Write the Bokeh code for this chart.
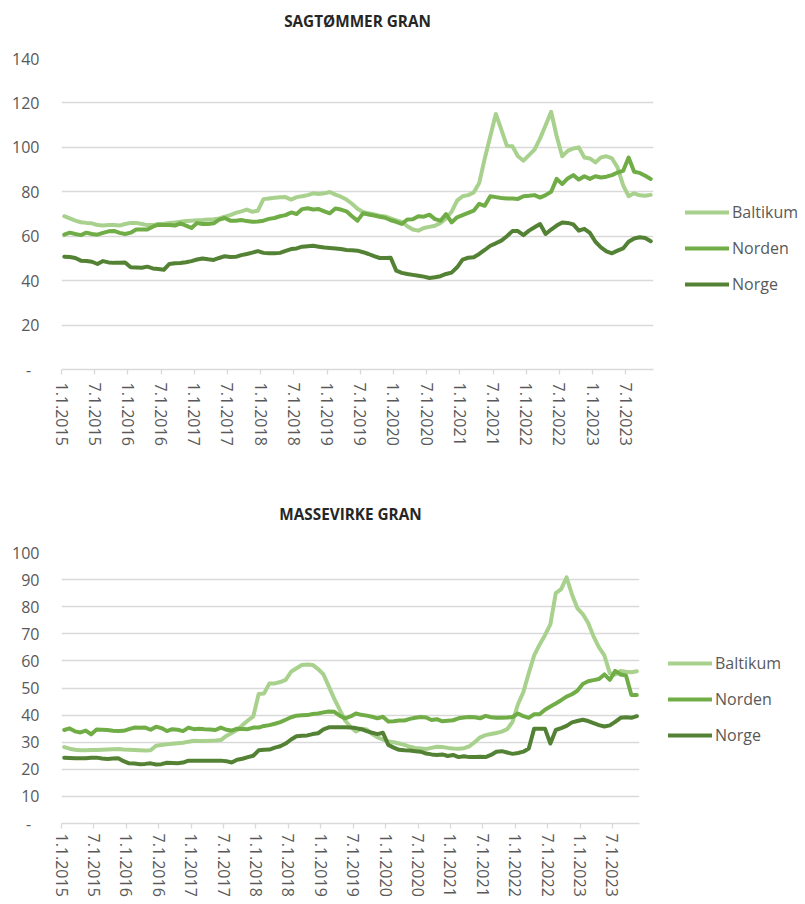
from bokeh.plotting import figure
from bokeh.layouts import column
from bokeh.models import Range1d, FixedTicker, Legend, LegendItem, Title
from bokeh.embed import file_html
from bokeh.resources import INLINE

# Monthly index series, January 2015 - November 2023
months = [f"{m}.1.{y}" for y in range(2015, 2024) for m in range(1, 13)][:107]
tick_every = 6

saw_baltikum = [69, 68, 67, 66.3, 66, 65.8, 65, 64.8, 65, 65, 64.8, 65.5,
                66, 66, 65.5, 65, 65, 65.5, 65.6, 66, 66.2, 66.5, 66.8, 67,
                67.2, 67.3, 67.5, 67.6, 68, 68.8, 69.5, 70.5, 71.2, 72, 71, 71.5,
                76.7, 77, 77.3, 77.5, 77.6, 76.5, 77.6, 78, 78.5, 79.3, 79, 79.3,
                79.9, 78.7, 77.8, 76.5, 74.6, 72.4, 70.9, 70.3, 69.8, 69.2, 68.9, 68,
                67.1, 66.4, 64.5, 63, 62.5, 63.7, 64.2, 64.7, 66, 68, 71, 76,
                78, 78.5, 79.7, 84, 95, 105, 115, 108, 100.7, 100.5, 96, 94,
                96.5, 99, 104, 110, 116, 105, 96, 98.4, 99.5, 100, 95.4, 95,
                93.2, 95.5, 96, 95, 91, 83, 78, 79.3, 78.4, 78.2, 78.6]
saw_norden = [60.7, 61.6, 61, 60.5, 61.6, 61, 60.7, 61.5, 62.2, 62.4, 61.5, 61,
              61.6, 63, 63, 63, 64.3, 65.2, 65, 65, 64.8, 65.8, 64.8, 63.7,
              65.9, 65.5, 65.5, 65.8, 67.5, 68.2, 67, 67, 67.3, 66.8, 66.5, 66.6,
              67, 67.8, 68.2, 69, 69.5, 70.7, 70, 72.2, 72.6, 72, 72.2, 71.2,
              70.3, 72.5, 72, 71.2, 69, 67, 70.3, 69.8, 69.3, 68.8, 68.3, 67.2,
              66.5, 65.5, 67.5, 67.6, 69, 68.8, 69.7, 67.7, 67, 70, 66.2, 68.5,
              69.5, 70.5, 71.5, 74.6, 73.7, 78, 77.6, 77.2, 77, 77, 76.8, 78,
              78.2, 78.5, 77.4, 78.5, 80, 85.8, 83.5, 86, 87.5, 85.5, 87, 85.8,
              87, 86.4, 86.8, 87.5, 88.7, 89.4, 95.4, 89, 88.5, 87.2, 85.8]
saw_norge = [50.8, 50.6, 50.2, 49, 48.8, 48.5, 47.5, 48.8, 48.2, 48, 48.1, 48.2,
             46, 45.9, 45.8, 46.3, 45.5, 45.2, 44.9, 47.5, 47.8, 47.9, 48.3, 48.8,
             49.5, 50, 49.6, 49.3, 50.2, 51, 50.6, 50.7, 51.5, 52, 52.6, 53.3,
             52.5, 52.3, 52.3, 52.5, 53.4, 54.2, 54.5, 55.3, 55.5, 55.7, 55.3, 54.9,
             54.7, 54.5, 54.2, 53.8, 53.7, 53.5, 52.8, 52, 51, 50.2, 50.2, 50.3,
             44.5, 43.5, 43, 42.6, 42.2, 41.8, 41.2, 41.5, 42, 43, 43.6, 46,
             49.5, 50.3, 50.5, 52, 53.8, 55.7, 56.8, 58, 60, 62.3, 62.3, 60.5,
             62.5, 64, 65.5, 61, 63, 64.8, 66.2, 66, 65.3, 62.5, 63.3, 61.5,
             57.5, 55, 53.2, 52.3, 53.5, 54.5, 57.5, 59, 59.5, 59.2, 57.7]

pulp_baltikum = [28.2, 27.6, 27.2, 27, 27, 27.1, 27.1, 27.2, 27.3, 27.4, 27.5, 27.3,
                 27.2, 27.1, 27, 26.9, 27, 28.7, 29, 29.2, 29.4, 29.6, 29.8, 30.2,
                 30.5, 30.4, 30.4, 30.5, 30.6, 30.8, 32.3, 33.4, 34.5, 36.3, 38, 39.5,
                 47.8, 48, 51.7, 51.7, 52.2, 53, 56, 57.3, 58.5, 58.7, 58.5, 57,
                 55, 50.5, 46, 42, 38, 35.7, 34, 35, 34.7, 33, 31.8, 31,
                 30.3, 30, 29.5, 29, 28.3, 27.9, 27.7, 27.5, 27.9, 28.3, 28.2, 27.9,
                 27.7, 27.6, 27.8, 28.5, 30, 31.8, 32.6, 33, 33.4, 33.9, 34.8, 37.5,
                 44, 48.5, 55.5, 62, 66, 69.5, 73.5, 85, 86.5, 90.8, 84.5, 79.4,
                 77.3, 74, 69, 65, 62, 55.5, 55, 56.3, 56, 55.8, 56.2]
pulp_norden = [34.5, 35.1, 34, 33.6, 34.3, 32.9, 34.7, 34.6, 34.5, 34.2, 34.1, 34.2,
               34.8, 35.4, 35.3, 35.4, 34.6, 35.7, 35.2, 34.1, 34.8, 34.6, 34.1, 35.4,
               34.8, 35, 34.8, 34.7, 34.5, 35.4, 34.6, 34.3, 35, 34.9, 34.8, 35.4,
               35.4, 36, 36.3, 36.8, 37.4, 38.3, 39.2, 39.8, 39.9, 40, 40.4, 40.6,
               41, 41.3, 41.2, 39.8, 38.8, 39.5, 40.6, 40.1, 39.8, 39.4, 38.8, 39.4,
               37.6, 37.7, 38, 38, 38.6, 39, 39.3, 39.1, 38.2, 38.5, 37.7, 37.9,
               38.1, 38.8, 39.1, 39.3, 39.2, 38.8, 39.7, 39.2, 39, 39, 39.1, 39.3,
               40.6, 39.6, 39, 40.3, 40.3, 42, 43.2, 44.3, 45.5, 46.8, 47.7, 49,
               51.5, 52.5, 52.9, 53.3, 55, 53, 56.3, 55, 54.6, 47.4, 47.4]
pulp_norge = [24.3, 24.2, 24.1, 24.1, 24.1, 24.3, 24.3, 24, 23.8, 24, 24.1, 23,
              22.2, 22.1, 21.9, 22, 22.2, 21.8, 21.9, 22.4, 22.3, 22.2, 22.5, 23.2,
              23.2, 23.2, 23.2, 23.2, 23.2, 23.2, 23, 22.5, 23.5, 23.9, 24.5, 25,
              27, 27.2, 27.3, 28, 28.5, 29.5, 31, 32.2, 32.4, 32.5, 33, 33.3,
              34.7, 35.5, 35.5, 35.5, 35.5, 35.4, 35.2, 34.8, 34.1, 33.5, 33, 33.5,
              29, 28, 27.2, 27, 26.9, 26.7, 26.5, 25.8, 25.5, 25.3, 25.5, 24.9,
              25.3, 24.5, 24.8, 24.5, 24.5, 24.6, 24.5, 25.3, 26.5, 26.7, 26.2, 25.7,
              26, 26.5, 27.7, 35, 35, 35, 29.5, 34.5, 35.2, 36, 37.3, 37.8,
              38.3, 37.8, 37, 36.3, 35.8, 36.2, 37.5, 39, 39.2, 39, 39.6]

series_names = ["Baltikum", "Norden", "Norge"]
colors = ["#A9D18E", "#70AD47", "#548235"]

FONT = "Open Sans"
GRAY = "#595959"


def make_chart(title, data, ymax, ystep, ml, fw, fh, mt, mb, mr, leg_loc,
               spacer_standoff, x_standoff):
    n = len(months)
    xs = [i + 0.5 for i in range(n)]
    p = figure(frame_width=fw, frame_height=fh, output_backend="svg",
               toolbar_location=None, x_range=Range1d(0, n), y_range=Range1d(0, ymax),
               min_border_left=ml, min_border_right=mr, min_border_top=mt,
               min_border_bottom=mb)
    p.outline_line_color = None
    p.background_fill_color = "white"
    p.border_fill_color = "white"
    # invisible spacer between the frame and the title
    p.add_layout(Title(text="\u00a0", text_font_size="10px", standoff=spacer_standoff,
                       text_color="white"), "above")
    p.title.text = title
    p.title.align = "center"
    p.title.text_font = FONT
    p.title.text_font_style = "bold"
    p.title.text_font_size = "15.3px"
    p.title.text_color = "#262626"
    p.title.standoff = 10

    renderers = []
    for vals, c in zip(data, colors):
        r = p.line(xs, vals, line_width=4, line_color=c, line_join="round", line_cap="round")
        renderers.append(r)

    p.xgrid.grid_line_color = None
    p.ygrid.grid_line_color = "#D9D9D9"
    p.ygrid.grid_line_width = 1.3

    xt = list(range(0, n, tick_every))
    p.xaxis.ticker = FixedTicker(ticks=xt)
    p.xaxis.major_label_overrides = {t: months[t] for t in xt}
    p.xaxis.major_label_orientation = "vertical"
    p.xaxis.axis_line_color = "#D9D9D9"
    p.xaxis.axis_line_width = 1.3
    p.xaxis.major_tick_line_color = "#D9D9D9"
    p.xaxis.major_tick_line_width = 1.3
    p.xaxis.major_tick_out = 5
    p.xaxis.major_tick_in = 0
    p.xaxis.minor_tick_line_color = None
    p.xaxis.major_label_standoff = x_standoff
    p.xaxis.major_label_text_font = FONT
    p.xaxis.major_label_text_font_size = "16px"
    p.xaxis.major_label_text_color = GRAY

    yt = list(range(0, ymax + 1, ystep))
    p.yaxis.ticker = FixedTicker(ticks=yt)
    p.yaxis.major_label_overrides = {0: "-\u00a0\u00a0"}
    p.yaxis.axis_line_color = None
    p.yaxis.major_tick_line_color = None
    p.yaxis.minor_tick_line_color = None
    p.yaxis.major_tick_out = 0
    p.yaxis.major_tick_in = 0
    p.yaxis.major_label_standoff = 22
    p.yaxis.major_label_text_font = FONT
    p.yaxis.major_label_text_font_size = "16px"
    p.yaxis.major_label_text_color = GRAY

    legend = Legend(items=[LegendItem(label=nm, renderers=[r]) for nm, r in zip(series_names, renderers)],
                    location=leg_loc, glyph_width=44, glyph_height=22, label_height=22,
                    spacing=14, padding=0, margin=0, label_standoff=3,
                    border_line_color=None, background_fill_alpha=0,
                    label_text_font=FONT, label_text_font_size="16px", label_text_color=GRAY)
    p.add_layout(legend, "right")
    return p


p1 = make_chart("SAGTØMMER GRAN", [saw_baltikum, saw_norden, saw_norge], 140, 20,
                ml=55, fw=592, fh=311, mt=58, mb=127, mr=142, leg_loc=(32, 74),
                spacer_standoff=10, x_standoff=8)
p2 = make_chart("MASSEVIRKE GRAN", [pulp_baltikum, pulp_norden, pulp_norge], 100, 10,
                ml=61, fw=578, fh=271, mt=55, mb=73, mr=150, leg_loc=(29, 77),
                spacer_standoff=11, x_standoff=5)

layout = column(p1, p2)
open("out.html", "w").write(file_html(layout, INLINE))
